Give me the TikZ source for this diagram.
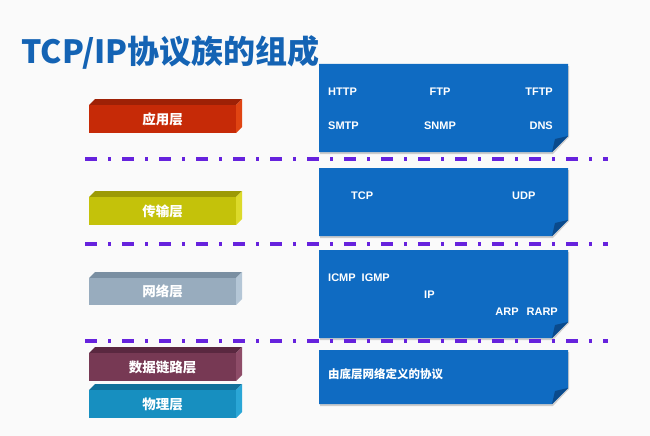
\documentclass[tikz,border=0pt]{standalone}
\usepackage{fontspec}
\setmainfont{Liberation Sans}
\newfontfamily\cjk{Noto Sans CJK SC}
\definecolor{bgc}{HTML}{FAFAFA}
\definecolor{titlec}{HTML}{1463B4}
\definecolor{boxc}{HTML}{0F6BC2}
\definecolor{foldc}{HTML}{0A4A8C}
\definecolor{sepc}{HTML}{6622DD}
\definecolor{appF}{HTML}{C62A07}\definecolor{appT}{HTML}{9E2106}\definecolor{appS}{HTML}{E04412}
\definecolor{traF}{HTML}{C4C20A}\definecolor{traT}{HTML}{9C9A05}\definecolor{traS}{HTML}{DCDA2A}
\definecolor{netF}{HTML}{98ACBE}\definecolor{netT}{HTML}{7A8FA2}\definecolor{netS}{HTML}{B4C6D6}
\definecolor{dlF}{HTML}{773954}\definecolor{dlT}{HTML}{5A2840}\definecolor{dlS}{HTML}{8E4C68}
\definecolor{phyF}{HTML}{178FC0}\definecolor{phyT}{HTML}{10709A}\definecolor{phyS}{HTML}{2AA6D6}
\tikzset{
  septline/.style={draw=sepc, line width=3.5pt, dash pattern=on 12pt off 11pt on 3pt off 11pt},
  protobox/.style={fill=boxc},
  shadowbox/.style={fill=black, fill opacity=0.18},
  foldtri/.style={fill=foldc},
  proto/.style={text=white, font=\bfseries\fontsize{11}{13}\selectfont, inner sep=0pt},
  protocjk/.style={text=white, font=\cjk\bfseries\fontsize{11.5}{13}\selectfont, inner sep=0pt},
  barlabel/.style={text=white, font=\cjk\bfseries\fontsize{13.5}{15}\selectfont, inner sep=0pt},
}
\newcommand{\layerbarx}[6]{%
  \fill[#4] (89,#1) -- (95,#1-6) -- (242,#1-6) -- (236,#1) -- cycle;
  \fill[#5] (236,#1) -- (242,#1-6) -- (242,#2-6) -- (236,#2) -- cycle;
  \fill[#3] (89,#1) rectangle (236,#2);
}
\newcommand{\protoboxx}[3]{%
  \fill[shadowbox] (320,#1+2) -- (569,#1+2) -- (569,#2-15) -- (553,#2+2) -- (320,#2+2) -- cycle;
  \fill[protobox] (319,#1) -- (568,#1) -- (568,#2-16) -- (552,#2) -- (319,#2) -- cycle;
  \fill[foldtri] (568,#2-16) -- (552,#2) -- (555,#2-13) -- cycle;
  \coordinate (#3) at (443.5,{(#1+#2)/2});
}
\begin{document}
\begin{tikzpicture}[x=1pt,y=-1pt]
\useasboundingbox (0,0) rectangle (650,436);
\fill[bgc] (0,0) rectangle (650,436);
\node[anchor=west, inner sep=0pt, text=titlec, font=\cjk\bfseries\fontsize{32}{36}\selectfont] (title) at (21,52) {TCP/IP协议族的组成};
\protoboxx{64}{152}{b1}
\protoboxx{168}{236}{b2}
\protoboxx{250}{338}{b3}
\protoboxx{350}{404}{b4}
\coordinate (s1a) at (85,159); \coordinate (s1b) at (608,159);
\coordinate (s2a) at (85,244); \coordinate (s2b) at (608,244);
\coordinate (s3a) at (85,341); \coordinate (s3b) at (608,341);
\draw[septline] (s1a) -- (s1b);
\draw[septline] (s2a) -- (s2b);
\draw[septline] (s3a) -- (s3b);
\layerbarx{105}{133}{appF}{appT}{appS}{app}
\layerbarx{197}{225}{traF}{traT}{traS}{tra}
\layerbarx{278}{305}{netF}{netT}{netS}{net}
\layerbarx{353}{381}{dlF}{dlT}{dlS}{dl}
\layerbarx{390}{418}{phyF}{phyT}{phyS}{phy}
\node[barlabel] (lapp) at (162.5,119) {应用层};
\node[barlabel] (ltra) at (162.5,211) {传输层};
\node[barlabel] (lnet) at (162.5,291.5) {网络层};
\node[barlabel] (ldl) at (162.5,367) {数据链路层};
\node[barlabel] (lphy) at (162.5,404) {物理层};
\node[proto, anchor=west] (http) at (328,92) {HTTP};
\node[proto] (ftp) at (440,92) {FTP};
\node[proto, anchor=east] (tftp) at (553,92) {TFTP};
\node[proto, anchor=west] (smtp) at (328,126) {SMTP};
\node[proto] (snmp) at (440,126) {SNMP};
\node[proto, anchor=east] (dns) at (553,126) {DNS};
\node[proto, anchor=west] (tcp) at (351,196) {TCP};
\node[proto, anchor=west] (udp) at (512,196) {UDP};
\node[proto, anchor=west] (icmp) at (328,278) {ICMP\hspace{6pt}IGMP};
\node[proto, anchor=west] (ip) at (424,295) {IP};
\node[proto, anchor=east] (arp) at (558,312) {ARP\hspace{8pt}RARP};
\node[protocjk, anchor=west] (phyproto) at (328,374) {由底层网络定义的协议};
\end{tikzpicture}
\end{document}
